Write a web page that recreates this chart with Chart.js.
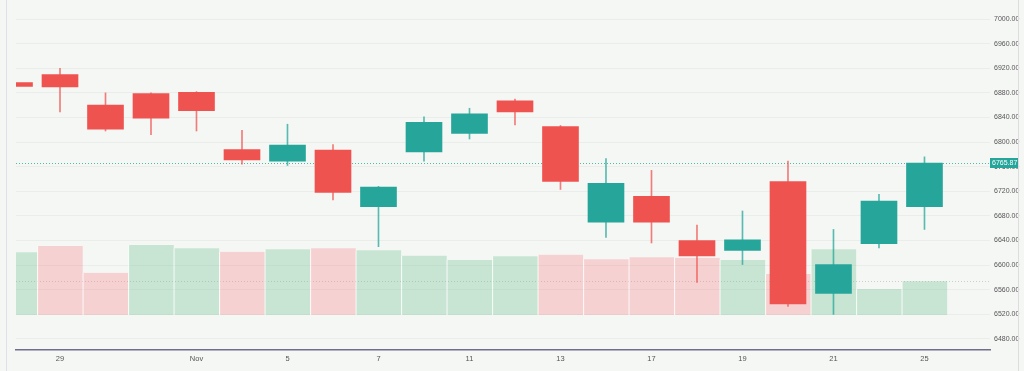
<!DOCTYPE html>
<html>
<head>
<meta charset="utf-8">
<title>S&amp;P 500 daily</title>
<script src="https://cdn.jsdelivr.net/npm/chart.js@4.4.1/dist/chart.umd.min.js"></script>
<style>
    html, body { margin: 0; padding: 0; background: #f5f7f5; }
    #wrap { position: relative; width: 1024px; height: 371px; }
</style>
</head>
<body>
<div id="wrap"><canvas id="chart" width="1024" height="371"></canvas></div>
<script>
// Daily candles, Oct 28 - Nov 25
const dayLabels = ['28', '29', '30', '31', 'Nov', '4', '5', '6', '7', '10', '11',
                   '12', '13', '14', '17', '18', '19', '20', '21', '24', '25'];
const tickIndex = [1, 4, 6, 8, 10, 12, 14, 16, 18, 20];

const opens  = [6896.5, 6909.5, 6860, 6879, 6881, 6788, 6769, 6787, 6695, 6784, 6814,
                6867, 6825, 6670, 6712, 6640, 6624, 6736, 6554, 6635, 6695];
const highs  = [6898, 6920, 6880, 6880, 6882, 6819, 6829, 6796, 6728, 6841, 6855,
                6870, 6827, 6773, 6754, 6665, 6688, 6769, 6658, 6715, 6776];
const lows   = [6888, 6849, 6818, 6812, 6818, 6764, 6762, 6706, 6630, 6769, 6805,
                6828, 6723, 6645, 6636, 6572, 6601, 6533, 6520, 6628, 6658];
const closes = [6890.5, 6889.5, 6821, 6839, 6851, 6771, 6795, 6718, 6727, 6832, 6846,
                6849, 6736, 6733, 6670, 6615, 6641, 6537, 6601, 6704, 6765.87];
const prevClose = 6875; // close before the first candle

// volume, billions of shares
const volumes = [4.48, 4.93, 3.02, 5.00, 4.76, 4.52, 4.69, 4.76, 4.62, 4.24, 3.93,
                 4.19, 4.31, 3.98, 4.12, 4.09, 3.93, 2.93, 4.69, 1.86, 2.41];

const priceTicks = [6480, 6520, 6560, 6600, 6640, 6680, 6720, 6760, 6800, 6840, 6880, 6920, 6960, 7000];

const UP = '#26a69a';
const DOWN = '#ef5350';
const FONT = '"Liberation Sans", Arial, sans-serif';
const last = closes.length - 1;
const idx = dayLabels.map((_, i) => i);

const candleColor = c => closes[c.dataIndex] >= opens[c.dataIndex] ? UP : DOWN;
const wickColor = c => closes[c.dataIndex] >= opens[c.dataIndex] ? 'rgba(38,166,154,0.75)' : 'rgba(239,83,80,0.75)';
const volColor = c => {
    const i = c.dataIndex;
    const before = i === 0 ? prevClose : closes[i - 1];
    return closes[i] >= before ? 'rgba(95,190,132,0.3)' : 'rgba(245,124,128,0.3)';
};

function line(ctx, x1, y1, x2, y2) {
    ctx.beginPath();
    ctx.moveTo(x1, y1);
    ctx.lineTo(x2, y2);
    ctx.stroke();
}

const overlay = {
    id: 'overlay',
    beforeDatasetsDraw(chart) {
        const { ctx, chartArea: a, scales } = chart;
        ctx.save();
        ctx.lineWidth = 1;
        // last volume line
        const vy = Math.round(scales.vol.getPixelForValue(volumes[last])) + 0.5;
        ctx.strokeStyle = 'rgba(150,160,150,0.45)';
        ctx.setLineDash([1, 2]);
        line(ctx, a.left, vy, a.right, vy);
        // last price line
        const py = Math.round(scales.y.getPixelForValue(closes[last])) + 0.5;
        ctx.strokeStyle = 'rgba(38,166,154,0.8)';
        line(ctx, a.left, py, a.right, py);
        ctx.restore();
    },
    afterDraw(chart) {
        const { ctx, chartArea: a, scales } = chart;
        ctx.save();
        ctx.lineWidth = 1;
        ctx.strokeStyle = '#e0e0ea';
        line(ctx, 6.5, 0, 6.5, chart.height);
        ctx.strokeStyle = '#dddddd';
        line(ctx, 1018.5, 0, 1018.5, chart.height);
        // last price label
        const py = Math.round(scales.y.getPixelForValue(closes[last]));
        ctx.fillStyle = UP;
        ctx.fillRect(a.right, py - 5, 28, 10);
        ctx.fillStyle = '#ffffff';
        ctx.font = '7px ' + FONT;
        ctx.textBaseline = 'middle';
        ctx.fillText(closes[last].toFixed(2), a.right + 2, py + 0.5);
        ctx.restore();
    }
};

new Chart(document.getElementById('chart'), {
    type: 'bar',
    data: {
        datasets: [
            {
                label: 'Volume',
                data: idx.map(i => ({ x: i, y: volumes[i] })),
                yAxisID: 'vol',
                grouped: false,
                barThickness: 45.5,
                backgroundColor: volColor,
                borderColor: 'rgba(255,255,255,0.7)',
                borderWidth: { left: 1, right: 0, top: 0, bottom: 0 },
                borderSkipped: false,
                order: 3
            },
            {
                label: 'Wick',
                data: idx.map(i => ({ x: i, y: [lows[i], highs[i]] })),
                yAxisID: 'y',
                grouped: false,
                barThickness: 1,
                backgroundColor: wickColor,
                order: 2
            },
            {
                label: 'Body',
                data: idx.map(i => ({ x: i, y: [opens[i], closes[i]] })),
                yAxisID: 'y',
                grouped: false,
                barThickness: 36,
                backgroundColor: candleColor,
                order: 1
            }
        ]
    },
    options: {
        responsive: false,
        animation: false,
        layout: { padding: { left: 16, right: 0, top: 0, bottom: 0 } },
        plugins: {
            legend: { display: false },
            tooltip: { enabled: false }
        },
        scales: {
            x: {
                type: 'linear',
                offset: false,
                min: 0.033,
                max: 21.44,
                grid: { display: false, offset: false, drawTicks: false },
                border: { display: true, color: '#6f6f8c', width: 1.5 },
                afterBuildTicks: s => { s.ticks = tickIndex.map(v => ({ value: v })); },
                afterFit: s => { s.height = 21; s.paddingLeft = 0; s.paddingRight = 0; },
                ticks: {
                    autoSkip: false,
                    maxRotation: 0,
                    padding: 4,
                    color: '#555',
                    font: { family: FONT, size: 7.5 },
                    callback: v => dayLabels[v]
                }
            },
            y: {
                position: 'right',
                min: 6462.1,
                max: 7030.9,
                grid: { color: '#eaedea', drawTicks: false },
                border: { display: false },
                afterBuildTicks: s => { s.ticks = priceTicks.map(v => ({ value: v })); },
                afterFit: s => { s.width = 34; s.paddingTop = 0; s.paddingBottom = 0; },
                ticks: {
                    padding: 4,
                    color: '#555',
                    font: { family: FONT, size: 7 },
                    callback: v => v.toFixed(2)
                }
            },
            vol: {
                display: false,
                min: -2.5,
                max: 22.5
            }
        }
    },
    plugins: [overlay]
});
</script>
</body>
</html>
